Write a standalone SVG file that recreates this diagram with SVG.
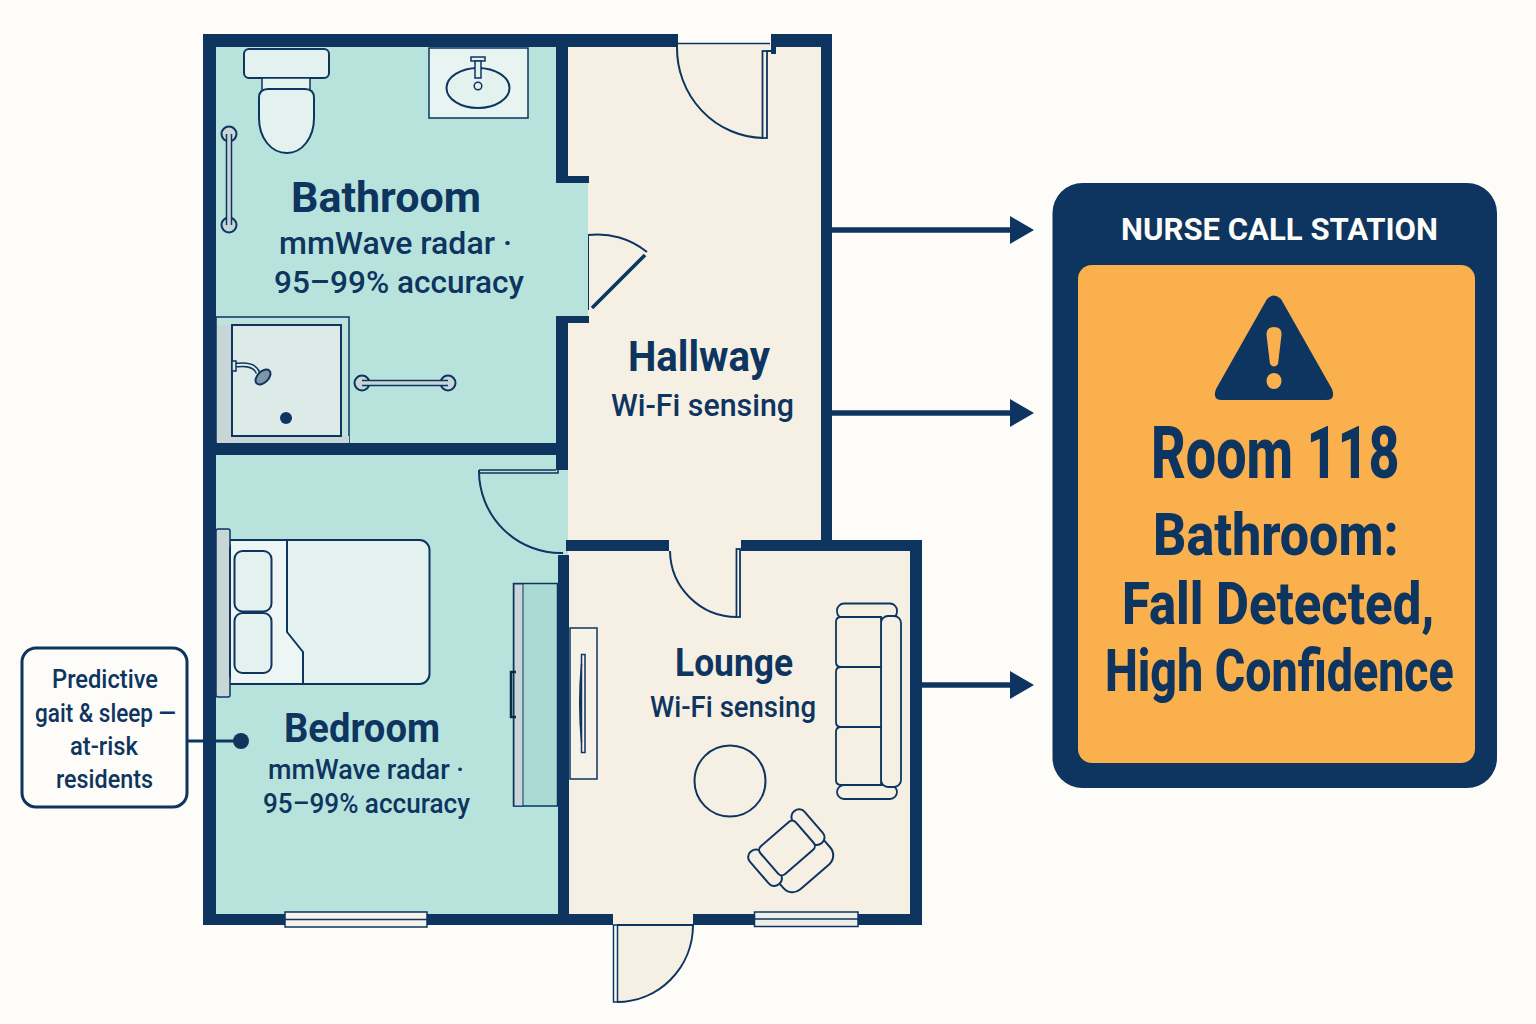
<svg xmlns="http://www.w3.org/2000/svg" width="1536" height="1024" viewBox="0 0 1536 1024">
<style>
text{font-family:Roboto,"Liberation Sans",sans-serif;fill:#0D3560;text-anchor:start}
.h{font-weight:700}
.b{font-weight:800}
.s{font-weight:500}
.w{fill:#0D3560}
.l{fill:none;stroke:#0D3560;stroke-width:2}
.f{fill:#E4F2EF;stroke:#0D3560;stroke-width:2}
.g{fill:#C8D6D8;stroke:#0D3560;stroke-width:2}
.c{fill:#F6F0E4;stroke:#0D3560;stroke-width:2}
.t{fill:#F6F0E4;stroke:#0D3560;stroke-width:1.800}
.arrow{fill:none;stroke:#0D3560;stroke-width:5.500}
</style>
<defs>
<marker id="head" markerUnits="userSpaceOnUse" markerWidth="24" markerHeight="28" refX="0" refY="14" orient="auto"><path d="M0 0L24 14L0 28Z" fill="#0D3560"/></marker>
</defs>
<rect width="1536" height="1024" fill="#FDFCF8"/>
<g id="hallway">
<rect x="566" y="44" width="256" height="500" fill="#F6F0E4"/>
<path d="M588 235A78 78 0 0 1 647 252" class="l"/>
<path d="M588.500 235V310" fill="none" stroke="#0D3560" stroke-width="1"/>
<path d="M645 255L592 308" fill="none" stroke="#0D3560" stroke-width="3.500"/>
<path d="M677 47A88 90 0 0 0 763 138" class="l"/>
<rect x="762.500" y="51" width="4.500" height="87" fill="#F6F0E4" stroke="#0D3560" stroke-width="1.800"/>
<path d="M678 43.500H770" fill="none" stroke="#0D3560" stroke-width="1.500"/>
<path d="M767 51H772V54" fill="none" stroke="#0D3560" stroke-width="2"/>
<text class="h" x="628" y="371" font-size="42" textLength="142" lengthAdjust="spacingAndGlyphs">Hallway</text>
<text class="s" x="611" y="416" font-size="32" textLength="183" lengthAdjust="spacingAndGlyphs">Wi-Fi sensing</text>
</g>
<g id="bathroom">
<rect x="214" y="45" width="344" height="400" fill="#B7E3DC"/>
<rect x="556" y="180" width="32" height="140" fill="#B7E3DC"/>
<rect x="244" y="49" width="85" height="29" rx="5" class="f"/>
<rect x="262" y="78" width="48" height="14" fill="#E4F2EF" stroke="#0D3560" stroke-width="1.500"/>
<path d="M268 89H305Q314 89 314 98V118C314 138 302 153 287 153C271 153 259 138 259 118V98Q259 89 268 89Z" class="f"/>
<rect x="429" y="48" width="99" height="70" fill="#E8F4F2" stroke="#0D3560" stroke-width="1.500"/>
<ellipse cx="478" cy="88" rx="31.500" ry="20" class="f"/>
<rect x="471" y="57" width="14" height="4" fill="#E4F2EF" stroke="#0D3560" stroke-width="1.500"/>
<rect x="475" y="61" width="6" height="17" fill="#E4F2EF" stroke="#0D3560" stroke-width="1.500"/>
<circle cx="478" cy="86" r="3.800" fill="#E4F2EF" stroke="#0D3560" stroke-width="1.500"/>
<circle cx="229" cy="134" r="7.500" class="g"/><circle cx="229" cy="225" r="7.500" class="g"/>
<path d="M229 134V225" fill="none" stroke="#0D3560" stroke-width="6.500"/>
<path d="M229 129V230" fill="none" stroke="#C8D6D8" stroke-width="3.500"/>
<rect x="216" y="317" width="133" height="126" fill="#BFE2DC" stroke="#0D3560" stroke-width="1.500"/>
<rect x="217" y="325" width="15" height="111" fill="#C8D6D8"/>
<rect x="217" y="436" width="132" height="7" fill="#C8D6D8"/>
<rect x="232" y="325" width="109" height="111" fill="#DCEBE8" stroke="#0D3560" stroke-width="2"/>
<path d="M233 365H238C249 364 256 367 258 373" fill="none" stroke="#0D3560" stroke-width="5"/>
<path d="M233 365H238C249 364 256 367 258 373" fill="none" stroke="#DCEBE8" stroke-width="2"/>
<rect x="232" y="361" width="4" height="10" fill="#DCEBE8" stroke="#0D3560" stroke-width="1.500"/>
<ellipse cx="263" cy="377" rx="5.500" ry="9" transform="rotate(45 263 377)" fill="#7F96A6" stroke="#0D3560" stroke-width="2"/>
<circle cx="286" cy="418" r="6" class="w"/>
<circle cx="362" cy="383" r="7.500" class="g"/><circle cx="448" cy="383" r="7.500" class="g"/>
<path d="M362 383H448" fill="none" stroke="#0D3560" stroke-width="6.500"/>
<path d="M357 383H453" fill="none" stroke="#C8D6D8" stroke-width="3.500"/>
<text class="h" x="291" y="212" font-size="43" textLength="190" lengthAdjust="spacingAndGlyphs">Bathroom</text>
<text class="s" x="279" y="254" font-size="32" textLength="233" lengthAdjust="spacingAndGlyphs">mmWave radar ·</text>
<text class="s" x="274" y="293" font-size="32" textLength="250" lengthAdjust="spacingAndGlyphs">95–99% accuracy</text>
</g>
<g id="bedroom">
<rect x="214" y="453" width="345" height="462" fill="#B7E3DC"/>
<rect x="555" y="468" width="13" height="88" fill="#B7E3DC"/>
<path d="M479 470A82 82 0 0 0 563 553" class="l"/>
<path d="M479 470H556M479 473H558V468" fill="none" stroke="#0D3560" stroke-width="1.500"/>
<rect x="216" y="529" width="14" height="168" rx="2" fill="#C8D6D8" stroke="#0D3560" stroke-width="1.500"/>
<rect x="230" y="540" width="199.500" height="144" rx="10" fill="#E4F2EF" stroke="#0D3560" stroke-width="2"/>
<path d="M231 541H287V632L303 652V683H231Z" fill="#EDF6F4"/>
<path d="M230 540H287V632L303 652V684H230" class="l"/>
<rect x="234.500" y="551" width="37" height="60.500" rx="8" class="f"/>
<rect x="234.500" y="613" width="37" height="60" rx="8" class="f"/>
<rect x="513.500" y="583.500" width="44" height="222.500" fill="#ABDAD4" stroke="#0D3560" stroke-width="1.500"/>
<rect x="514" y="584" width="9" height="222" fill="#C8D6D8" stroke="#0D3560" stroke-width="1"/>
<path d="M516 672H511V717H516" fill="none" stroke="#0D2A45" stroke-width="2.500"/>
<text class="h" x="284" y="742" font-size="40" textLength="156" lengthAdjust="spacingAndGlyphs">Bedroom</text>
<text class="s" x="268" y="779" font-size="28" textLength="196" lengthAdjust="spacingAndGlyphs">mmWave radar ·</text>
<text class="s" x="263" y="813" font-size="28" textLength="207" lengthAdjust="spacingAndGlyphs">95–99% accuracy</text>
</g>
<g id="lounge">
<rect x="568" y="549" width="344" height="367" fill="#F6F0E4"/>
<rect x="669" y="538" width="73" height="14" fill="#F6F0E4"/>
<rect x="613" y="912" width="80" height="15" fill="#F6F0E4"/>
<path d="M670 551A67 67 0 0 0 737 617" class="l"/>
<rect x="736.500" y="549" width="3.500" height="68" fill="#FDFCF8" stroke="#0D3560" stroke-width="1.800"/>
<rect x="570" y="628" width="27" height="151" fill="#F7F2E7" stroke="#0D3560" stroke-width="1.500"/>
<rect x="581.500" y="654.500" width="3.500" height="98" fill="#F7F2E7" stroke="#0D3560" stroke-width="1.500"/>
<path d="M581.500 664Q578 703 581.500 742" fill="#0D3560" stroke="#0D3560" stroke-width="1.500"/>
<rect x="837" y="603.500" width="60" height="15" rx="7" class="t"/>
<rect x="837" y="785" width="60" height="14" rx="7" class="t"/>
<rect x="881" y="616" width="20" height="171" rx="7" class="t"/>
<path d="M841 617H881V667H841Q836 667 836 662V622Q836 617 841 617Z" class="t"/>
<path d="M841 667H881V727H841Q836 727 836 722V672Q836 667 841 667Z" class="t"/>
<path d="M841 727H881V785H841Q836 785 836 780V732Q836 727 841 727Z" class="t"/>
<circle cx="730" cy="781" r="35.500" class="c"/>
<g transform="translate(787 848) rotate(-41)">
<rect x="-29" y="6" width="62" height="34" rx="12" class="c"/>
<rect x="-37" y="-21" width="15" height="43" rx="7" class="c"/>
<rect x="22" y="-23" width="15" height="42" rx="7" class="c"/>
<rect x="-23.500" y="-18.500" width="47" height="37" rx="5" class="c"/>
</g>
<text class="h" x="675" y="676" font-size="38" textLength="118" lengthAdjust="spacingAndGlyphs">Lounge</text>
<text class="s" x="650" y="717" font-size="29" textLength="166" lengthAdjust="spacingAndGlyphs">Wi-Fi sensing</text>
</g>
<g id="walls">
<rect class="w" x="203" y="34" width="475" height="13"/>
<rect class="w" x="771" y="34" width="61" height="13"/>
<rect class="w" x="203" y="34" width="13" height="891"/>
<rect class="w" x="556" y="34" width="12" height="149"/>
<rect class="w" x="556" y="176" width="33" height="7"/>
<rect class="w" x="556" y="316" width="33" height="7"/>
<rect class="w" x="556" y="316" width="12" height="154"/>
<rect class="w" x="216" y="443" width="352" height="12"/>
<rect class="w" x="558" y="555" width="11" height="370"/>
<rect class="w" x="821" y="34" width="11" height="517"/>
<rect class="w" x="566" y="540" width="103" height="11"/>
<rect class="w" x="741" y="540" width="181" height="11"/>
<rect class="w" x="910" y="540" width="12" height="385"/>
<rect class="w" x="203" y="914" width="410" height="11"/>
<rect class="w" x="693" y="914" width="229" height="11"/>
<rect class="w" x="771" y="47" width="5" height="7"/>
<rect x="285" y="912" width="142" height="15" fill="#F6F3EA" stroke="#0D3560" stroke-width="1.500"/>
<path d="M285 919.500H427" fill="none" stroke="#0D3560" stroke-width="1.500"/>
<rect x="754.500" y="912" width="103.500" height="14.500" fill="#EDEFE8" stroke="#0D3560" stroke-width="1.500"/>
<path d="M755 919H858" fill="none" stroke="#0D3560" stroke-width="1.500"/>
</g>
<g id="entry-door">
<path d="M617 925H693A76 77 0 0 1 617 1002Z" fill="#F6F0E4"/>
<path d="M617 925H693A76 77 0 0 1 617 1002" class="l"/>
<rect x="613.500" y="925" width="4" height="77" fill="#FDFCF8" stroke="#0D3560" stroke-width="1.500"/>
</g>
<g id="connectors">
<path class="arrow" d="M832 230H1010" marker-end="url(#head)"/>
<path class="arrow" d="M832 413H1010" marker-end="url(#head)"/>
<path class="arrow" d="M922 685H1010" marker-end="url(#head)"/>
<path d="M187 741H241" fill="none" stroke="#0D3560" stroke-width="3"/>
<circle cx="241" cy="741" r="8" class="w"/>
</g>
<g id="callout">
<rect x="22" y="648" width="165" height="159" rx="14" fill="#FDFCF8" stroke="#0D3560" stroke-width="3"/>
<text class="s" x="52" y="688" font-size="26" textLength="106" lengthAdjust="spacingAndGlyphs">Predictive</text>
<text class="s" x="35" y="722" font-size="26" textLength="141" lengthAdjust="spacingAndGlyphs">gait &amp; sleep —</text>
<text class="s" x="70" y="755" font-size="26" textLength="68" lengthAdjust="spacingAndGlyphs">at-risk</text>
<text class="s" x="56" y="788" font-size="26" textLength="97" lengthAdjust="spacingAndGlyphs">residents</text>
</g>
<g id="nurse-station">
<rect x="1052.500" y="183" width="444.500" height="605" rx="30" fill="#0D3560"/>
<rect x="1078" y="265" width="397" height="498" rx="14" fill="#FBB04E"/>
<path d="M1267 299Q1274 292 1281 299L1332 389Q1336 400 1326 400H1222Q1212 400 1216 389Z" class="w"/>
<path d="M1266.500 335Q1266 327 1274 327Q1282 327 1281.500 335L1278 364Q1274 369 1270 364Z" fill="#FBB04E"/>
<ellipse cx="1274" cy="381" rx="7.500" ry="8" fill="#FBB04E"/>
<text class="h" x="1121" y="240" font-size="31" textLength="317" lengthAdjust="spacingAndGlyphs" style="fill:#FDFCF8">NURSE CALL STATION</text>
<text class="b" transform="translate(1151 478) scale(.748 1)" font-size="72">Room 118</text>
<text class="b" transform="translate(1153 555) scale(.868 1)" font-size="60">Bathroom:</text>
<text class="b" transform="translate(1122 624) scale(.846 1)" font-size="60">Fall Detected,</text>
<text class="b" transform="translate(1105 691) scale(.776 1)" font-size="60">High Confidence</text>
</g>
</svg>
